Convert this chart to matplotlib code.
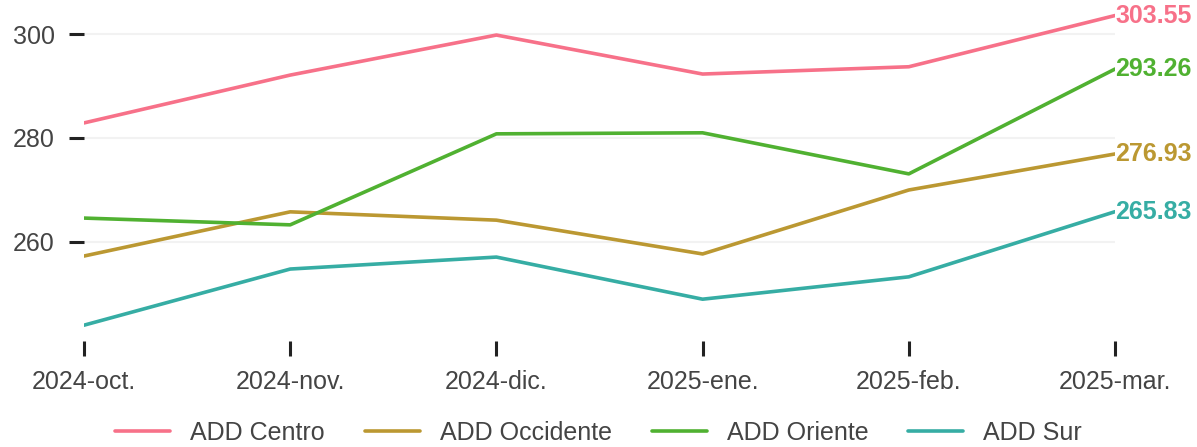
import matplotlib.pyplot as plt

plt.rcParams['font.family'] = ['Liberation Sans', 'DejaVu Sans']

months = ['2024-oct.', '2024-nov.', '2024-dic.', '2025-ene.', '2025-feb.', '2025-mar.']
centro = [282.9, 292.1, 299.8, 292.3, 293.7, 303.55]
occidente = [257.3, 265.8, 264.2, 257.7, 270.0, 276.93]
oriente = [264.6, 263.3, 280.8, 281.0, 273.1, 293.26]
sur = [244.0, 254.8, 257.1, 249.0, 253.3, 265.83]
names = ['ADD Centro', 'ADD Occidente', 'ADD Oriente', 'ADD Sur']
colors = ['#f77189', '#bb9832', '#50b131', '#36ada4']

fig = plt.figure(figsize=(11.97, 4.47), dpi=100)
ax = fig.add_axes([84 / 1197, 1 - 341 / 447, (1115 - 84) / 1197, (341 - 4) / 447])

x = list(range(len(months)))
for vals, name, c in zip([centro, occidente, oriente, sur], names, colors):
    ax.plot(x, vals, color=c, lw=2.6, label=name, solid_capstyle='round')
    ax.text(x[-1], vals[-1], f'{vals[-1]:.2f}', color=c, fontsize=18,
            fontweight='bold', ha='left', va='center')

ax.set_xlim(0, 5)
ax.set_ylim(240.96, 305.77)
ax.set_xticks(x)
ax.set_xticklabels(months)
ax.set_yticks([260, 280, 300])
ax.grid(axis='y', color='#f2f2f2', lw=1.5)
ax.set_axisbelow(True)
for s in ax.spines.values():
    s.set_visible(False)
ax.tick_params(axis='both', direction='out', length=11, width=2.2, color='#222222',
               labelsize=18, labelcolor='#444444')
ax.tick_params(axis='y', pad=10)
ax.tick_params(axis='x', pad=10)

fig.legend(loc='lower center', bbox_to_anchor=(0.5, -0.045), ncol=4, frameon=False,
           fontsize=18, handlelength=2.2, handletextpad=0.8, columnspacing=1.6,
           labelcolor='#444444')

fig.savefig('out.png', dpi=100)
